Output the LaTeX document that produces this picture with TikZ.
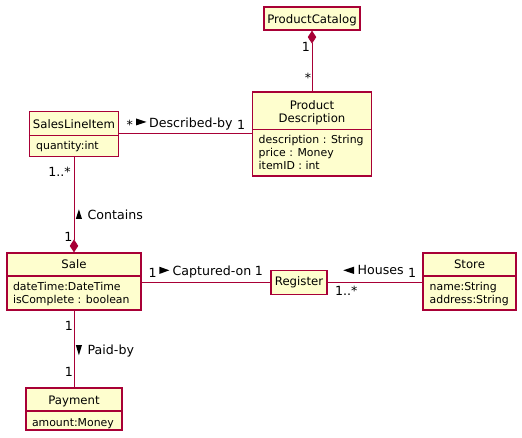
\documentclass[tikz,border=0pt]{standalone}
\usepackage{fontspec}
\setmainfont{DejaVu Sans}
\usetikzlibrary{arrows.meta}
\definecolor{umlborder}{HTML}{A80036}
\definecolor{umlfill}{HTML}{FEFECE}
\newcommand\clsfont{\fontsize{11.7}{14}\selectfont}
\newcommand\attrfont{\fontsize{10.9}{13}\selectfont}
\newcommand\lblfont{\fontsize{12.6}{15}\selectfont}
\tikzset{
  cls/.style={draw=umlborder, fill=umlfill, line width=1.2pt, inner sep=0pt, rectangle},
  divline/.style={draw=umlborder, line width=1.2pt},
  conn/.style={draw=umlborder, line width=1pt},
  ctitle/.style={inner sep=0pt, anchor=base, font=\clsfont},
  cattr/.style={inner sep=0pt, anchor=base west, font=\attrfont},
  lbl/.style={inner sep=0pt, anchor=base west, font=\lblfont},
  mult/.style={inner sep=0pt, anchor=base, font=\lblfont},
  dirtri/.style={fill=black},
  comp/.tip={Diamond[length=13pt,width=8.5pt,fill=umlborder]}
}
\begin{document}
\begin{tikzpicture}[x=1pt,y=-1pt]
\useasboundingbox (0,0) rectangle (522,438);
% class boxes
\node[cls, minimum width=96pt, minimum height=23pt] (pc) at (312,18.5) {};
\node[cls, minimum width=119pt, minimum height=84pt] (pd) at (312,134) {};
\node[cls, minimum width=89pt, minimum height=45pt] (sli) at (74,134) {};
\node[cls, minimum width=134pt, minimum height=57pt] (sale) at (74,281.5) {};
\node[cls, minimum width=56pt, minimum height=24pt] (reg) at (299,282.5) {};
\node[cls, minimum width=93pt, minimum height=57pt] (store) at (469.5,281.5) {};
\node[cls, minimum width=96pt, minimum height=42pt] (pay) at (74,409) {};
% dividers
\draw[divline] (pd.west |- 0,129.3) -- (pd.east |- 0,129.3);
\draw[divline] (sli.west |- 0,135.7) -- (sli.east |- 0,135.7);
\draw[divline] (sale.west |- 0,276) -- (sale.east |- 0,276);
\draw[divline] (store.west |- 0,276) -- (store.east |- 0,276);
\draw[divline] (pay.west |- 0,411) -- (pay.east |- 0,411);
% class texts
\node[ctitle] (pct) at (312,24) {ProductCatalog};
\node[ctitle] (pdt1) at (312,109.3) {Product};
\node[ctitle] (pdt2) at (312,122.7) {Description};
\node[cattr] (pda1) at (258.5,144) {description : String};
\node[cattr] (pda2) at (258.5,157) {price : Money};
\node[cattr] (pda3) at (258.5,170) {itemID : int};
\node[ctitle] (slit) at (74,129) {SalesLineItem};
\node[cattr] (slia) at (36,150) {quantity:int};
\node[ctitle] (salet) at (74,268.3) {Sale};
\node[cattr] (salea1) at (12.8,290.7) {dateTime:DateTime};
\node[cattr] (salea2) at (12.8,303.5) {isComplete : boolean};
\node[ctitle] (regt) at (299,286) {Register};
\node[ctitle] (storet) at (469.5,268.3) {Store};
\node[cattr] (storea1) at (429.5,290.7) {name:String};
\node[cattr] (storea2) at (429.5,303.5) {address:String};
\node[ctitle] (payt) at (74,404) {Payment};
\node[cattr] (paya) at (31.8,426) {amount:Money};
% connectors
\draw[conn, {comp}-] (pc.south) -- (pd.north);
\draw[conn] (sli.east) -- (pd.west);
\draw[conn, -{comp}] (sli.south) -- (sale.north);
\draw[conn] (sale.east |- reg.west) -- (reg.west);
\draw[conn] (reg.east) -- (reg.east -| store.west);
\draw[conn] (sale.south) -- (pay.north);
% multiplicities and labels
\node[mult] (m1) at (306,51.5) {1};
\node[mult] (m2) at (308,82.3) {*};
\node[mult] (m3) at (129.7,130) {*};
\fill[dirtri] (136,118.5) -- (146.5,122) -- (136,125.5) -- cycle;
\node[lbl] (l1) at (149,127.5) {Described-by};
\node[mult] (m4) at (241.2,130) {1};
\node[lbl] (m5) at (48.2,176.5) {1..*};
\fill[dirtri] (75.8,219) -- (82,219) -- (78.9,209.3) -- cycle;
\node[lbl] (l2) at (87.5,219.3) {Contains};
\node[mult] (m6) at (68.5,242) {1};
\node[mult] (m7) at (152.7,278) {1};
\fill[dirtri] (159.3,266.7) -- (169.3,270.3) -- (159.3,274) -- cycle;
\node[lbl] (l3) at (172.5,275.3) {Captured-on};
\node[mult] (m8) at (258.8,276) {1};
\fill[dirtri] (354,266.7) -- (343.3,270.3) -- (354,274) -- cycle;
\node[lbl] (l4) at (357.5,275) {Houses};
\node[mult] (m9) at (412.2,277.7) {1};
\node[lbl] (m10) at (335,296) {1..*};
\node[mult] (m11) at (68.8,330.7) {1};
\fill[dirtri] (75.8,345) -- (82,345) -- (78.9,355.3) -- cycle;
\node[lbl] (l5) at (87.5,354) {Paid-by};
\node[mult] (m12) at (68.8,376.7) {1};
\end{tikzpicture}
\end{document}
